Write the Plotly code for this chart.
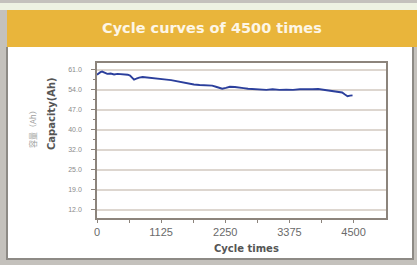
import plotly.graph_objects as go

# Data
cycles = [0, 30, 60, 90, 130, 180, 240, 300, 360, 420, 480, 540, 580, 620, 650, 690, 740, 800, 861,
          940, 1020, 1100, 1143, 1220, 1300, 1400, 1500, 1617, 1700, 1800, 1900, 2022, 2100, 2150,
          2197, 2260, 2330, 2420, 2496, 2570, 2650, 2750, 2860, 2971, 3080, 3200, 3320, 3440,
          3560, 3680, 3780, 3880, 3980, 4080, 4180, 4254, 4300, 4350, 4395, 4440, 4483]
capacity = [59.3, 59.9, 60.2, 60.4, 60.0, 59.6, 59.7, 59.4, 59.6, 59.5, 59.6, 59.3, 59.0, 58.1, 57.6, 57.9, 58.3, 58.5, 58.4,
            58.2, 58.0, 57.9, 57.85, 57.6, 57.4, 57.0, 56.6, 56.0, 55.9, 55.7, 55.6, 55.5, 55.0, 54.6,
            54.4, 54.7, 55.1, 55.0, 54.9, 54.6, 54.4, 54.3, 54.1, 54.0, 54.2, 54.0, 54.1, 54.0,
            54.2, 54.1, 54.2, 54.3, 54.0, 53.8, 53.6, 53.4, 53.1, 52.4, 51.8, 52.0, 52.1]

y_tickvals = [12, 19, 26, 33, 40, 47, 54, 61]
y_ticktext = ["12.0", "19.0", "25.0", "32.0", "40.0", "47.0", "54.0", "61.0"]
x_tickvals = [0, 1125, 2250, 3375, 4500]
x_ticktext = ["0", "1125", "2250", "3375", "4500"]

W, H = 417, 265
L, R, T, B = 97, 386, 63, 218
PW, PH = R - L, B - T


def px(x):
    return (x - L) / PW


def py(y):
    return (B - y) / PH


fig = go.Figure()
fig.add_trace(go.Scatter(x=cycles, y=capacity, mode="lines",
                         line=dict(color="#2b3f9c", width=1.9), showlegend=False,
                         hoverinfo="skip"))

ann = dict(xref="paper", yref="paper", showarrow=False, xanchor="center", yanchor="middle")

fig.update_layout(
    width=W, height=H,
    paper_bgcolor="#c4c1bc",
    plot_bgcolor="white",
    margin=dict(l=L, r=W - R, t=T, b=H - B),
    font=dict(family="Liberation Sans, Arial, sans-serif"),
    shapes=[
        dict(type="rect", xref="paper", yref="paper", x0=px(0), x1=px(W),
             y0=py(3), y1=py(10), fillcolor="#eef2e2", line_width=0, layer="below"),
        dict(type="rect", xref="paper", yref="paper", x0=px(7), x1=px(W),
             y0=py(47), y1=py(10), fillcolor="#e9b53b", line_width=0, layer="below"),
        dict(type="rect", xref="paper", yref="paper", x0=px(6), x1=px(414),
             y0=py(260), y1=py(47), fillcolor="#8d8a85", line_width=0, layer="below"),
        dict(type="rect", xref="paper", yref="paper", x0=px(8), x1=px(412),
             y0=py(258), y1=py(47), fillcolor="#ffffff", line_width=0, layer="below"),
    ],
    annotations=[
        dict(text="<b>Cycle curves of 4500 times</b>", x=px(212), y=py(28),
             font=dict(size=14.5, color="#fdf6e6", family="DejaVu Sans"), **ann),
        dict(text="<b>Capacity(Ah)</b>", x=px(51), y=py(114), textangle=-90,
             font=dict(size=10, color="#555555", family="DejaVu Sans"), **ann),
        dict(text="容量（Ah）", x=px(32), y=py(127), textangle=-90,
             font=dict(size=8, color="#a0a0a0", family="Noto Sans CJK SC"), **ann),
        dict(text="<b>Cycle times</b>", x=px(246), y=py(248),
             font=dict(size=10, color="#555555", family="DejaVu Sans"), **ann),
    ],
)

fig.update_xaxes(range=[0, 5070], tickvals=x_tickvals, ticktext=x_ticktext,
                 showgrid=False, zeroline=False, showline=True, mirror=True,
                 linecolor="#8c847c", linewidth=1.6, ticks="outside", ticklen=3,
                 tickcolor="#8c847c", tickfont=dict(size=11, color="#6a6a6a"),
                 minor=dict(tickvals=[562.5, 1687.5, 2812.5, 3937.5], ticks="outside",
                            ticklen=3, tickcolor="#8c847c"))
fig.update_yaxes(range=[9.2, 63.4], tickvals=y_tickvals, ticktext=y_ticktext,
                 showgrid=True, gridcolor="#ddd6cf", gridwidth=1.5, zeroline=False,
                 showline=True, mirror=True, linecolor="#8c847c", linewidth=1.6,
                 ticks="outside", ticklen=4, tickcolor="#8c847c",
                 ticklabelstandoff=8,
                 tickfont=dict(size=7, color="#8a8a8a"),
                 minor=dict(tickvals=[15.5, 22.5, 29.5, 36.5, 43.5, 50.5, 57.5], ticks="outside",
                            ticklen=2, tickcolor="#8c847c"))

fig.write_html("out.html", config={"displayModeBar": False},
               post_script="document.body.style.margin='0';document.body.style.overflow='hidden';")
